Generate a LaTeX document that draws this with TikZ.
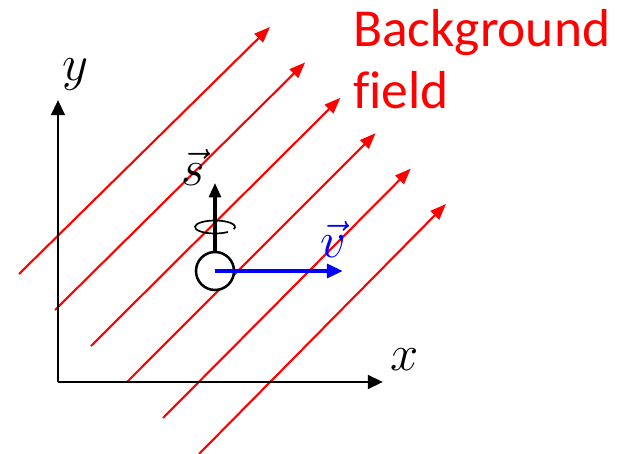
\RequirePackage{fix-cm}
\documentclass[tikz,border=0pt]{standalone}
\usepackage{fontspec}
\newfontfamily\fieldfont[Ligatures=NoCommon]{Carlito}
\usetikzlibrary{arrows.meta, positioning}
\definecolor{fieldred}{HTML}{FF0000}
\definecolor{velblue}{HTML}{0000FF}

\begin{document}
\begin{tikzpicture}[x=0.025cm, y=-0.025cm,
  fieldline/.style={-{Triangle[length=0.4cm, width=0.3cm]}, draw=fieldred, line width=1.5pt},
  axis/.style={-{Triangle[length=0.38cm, width=0.34cm]}, line width=2pt},
  particle/.style={circle, draw, fill=white, line width=1.8pt, minimum size=0.95cm, inner sep=0pt},
  spinarrow/.style={-{Triangle[length=0.36cm, width=0.3cm]}, line width=2.2pt},
  spinloop/.style={line width=1.2pt},
  velocity/.style={-{Triangle[length=0.4cm, width=0.34cm]}, draw=velblue, line width=3pt},
  mathlabel/.style={font=\fontsize{36}{40}\selectfont, inner sep=0pt},
  fieldlabel/.style={font=\fieldfont\fontsize{38}{44}\selectfont, text=fieldred, align=left, inner sep=0pt}
]
\useasboundingbox (0,0) rectangle (627,454);

% background field
\foreach \i in {0,...,5} {
  \coordinate (f\i s) at (19+36*\i, 274+36*\i);
  \coordinate (f\i e) at (270+35.2*\i, 27+35.4*\i);
  \draw[fieldline] (f\i s) -- (f\i e);
}

% axes
\coordinate (origin) at (58,382);
\coordinate (xend) at (383,382);
\coordinate (yend) at (58,100);
\draw[axis] (origin) -- (xend);
\draw[axis] (origin) -- (yend);

% particle with spin and velocity
\coordinate (spinc) at (215,227);
\draw[spinloop] (spinc) ++(50:20 and 6.5) arc[start angle=50, end angle=380, x radius=20, y radius=6.5];
\node[particle] (p) at (215,271) {};
\coordinate (stip) at (215,183);
\coordinate (vtip) at (343,271);
\draw[spinarrow] (p.north) -- (stip);
\draw[velocity] (p.center) -- (vtip);

\node[mathlabel, anchor=base] (xlab) at (405,370) {$x$};
\node[mathlabel, anchor=base] (ylab) at (75,80) {$y$};
\node[mathlabel, anchor=base] (slab) at (193,185) {$\vec{s}$};
\node[mathlabel, anchor=base, text=velblue] (vlab) at (333,257) {$\vec{v}$};
\node[fieldlabel, anchor=base west] (bglab) at (353,108) {Background\\field};
\end{tikzpicture}
\end{document}
